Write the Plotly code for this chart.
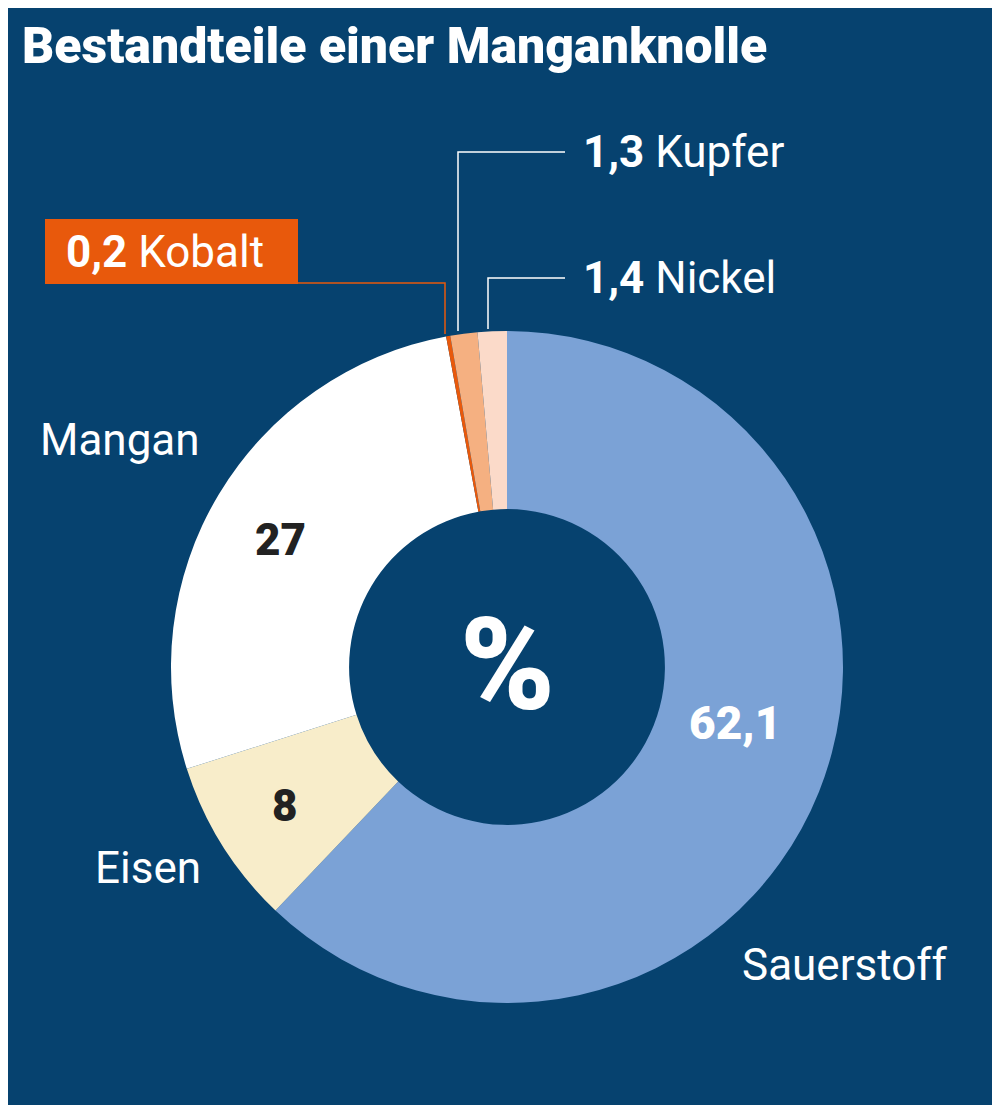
import plotly.graph_objects as go

labels = ["Sauerstoff", "Eisen", "Mangan", "Kobalt", "Kupfer", "Nickel"]
values = [62.1, 8, 27, 0.2, 1.3, 1.4]
colors = ["#7ba2d6", "#f8edca", "#ffffff", "#e8590c", "#f5b081", "#fbdac9"]
BG = "#06426f"
W, H = 985, 1097
OFF = 8

def fmt(v):
    return ("%g" % v).replace(".", ",")

def px(x): return (x - OFF) / W
def py(y): return 1 - (y - OFF) / H

fig = go.Figure(go.Pie(
    labels=labels, values=values, sort=False, direction="clockwise", rotation=0,
    hole=0.47, marker=dict(colors=colors, line=dict(width=0)), textinfo="none",
    hoverinfo="label+value",
    domain=dict(x=[px(171), px(843)], y=[py(1003), py(331)]),
))

shapes = [
    dict(type="rect", xref="paper", yref="paper", x0=px(45), x1=px(298), y0=py(284), y1=py(219),
         fillcolor="#e8590c", line=dict(width=0)),
]
def path(pts, color):
    d = "M " + " L ".join(f"{px(x)},{py(y)}" for x, y in pts)
    return dict(type="path", xref="paper", yref="paper", path=d, line=dict(color=color, width=1.5))
shapes += [
    path([(458, 331), (458, 152), (565, 152)], "white"),
    path([(488, 329), (488, 278), (565, 278)], "white"),
    path([(445, 334), (445, 283), (298, 283)], "#e8590c"),
]

F = "Roboto"
def ann(x, y, text, size, color="white", xanchor="left", weight=None):
    font = dict(family=F, size=size, color=color)
    if weight:
        font["weight"] = weight
    return dict(x=px(x), y=py(y), xref="paper", yref="paper", text=text, showarrow=False,
                xanchor=xanchor, yanchor="middle", font=font)

anns = [
    ann(20, 46, "Bestandteile einer Manganknolle", 50, weight=900),
    ann(507, 665, "%", 128, xanchor="center", weight=900),
    ann(735, 723, fmt(values[0]), 46, xanchor="center", weight=900),
    ann(285, 806, fmt(values[1]), 44, "#222222", "center", weight=900),
    ann(280, 540, fmt(values[2]), 44, "#222222", "center", weight=900),
    ann(38, 440, labels[2], 44),
    ann(93, 868, labels[1], 44),
    ann(740, 965, labels[0], 44),
    ann(581, 152, f"<b>{fmt(values[4])}</b> {labels[4]}", 44),
    ann(581, 278, f"<b>{fmt(values[5])}</b> {labels[5]}", 44),
    ann(64, 252, f"<b>{fmt(values[3])}</b> {labels[3]}", 44),
]

fig.update_layout(width=W, height=H, margin=dict(l=0, r=0, t=0, b=0),
                  paper_bgcolor=BG, showlegend=False, shapes=shapes, annotations=anns)
fig.write_html("out.html")
